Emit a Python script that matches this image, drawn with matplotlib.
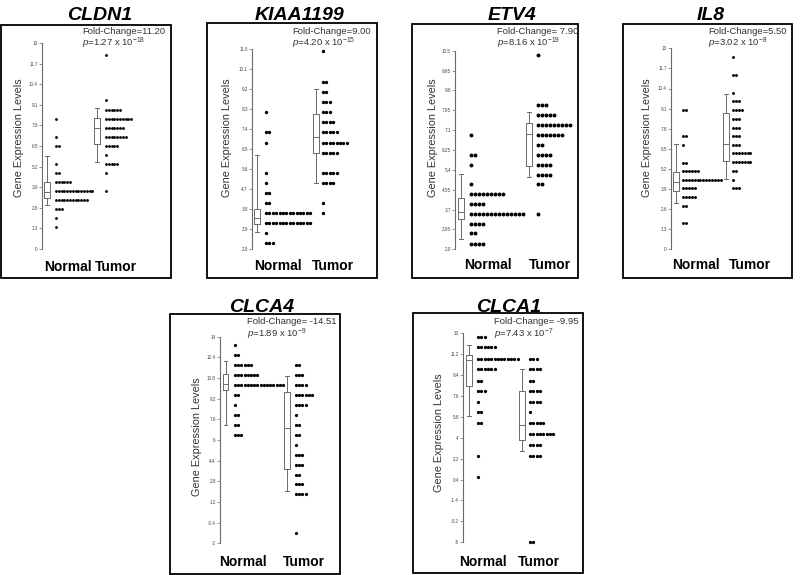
import numpy as np
import matplotlib.pyplot as plt
from matplotlib.patches import Rectangle

plt.rcParams['font.family'] = 'Liberation Sans'
plt.rcParams['mathtext.fontset'] = 'custom'
plt.rcParams['mathtext.rm'] = 'Liberation Sans'
plt.rcParams['mathtext.it'] = 'Liberation Sans:italic'

# ---- данные ----
genes = ["CLDN1", "KIAA1199", "ETV4", "IL8", "CLCA4", "CLCA1"]
fold_changes = ["11.20", "9.00", " 7.90", "5.50", " -14.51", " -9.95"]
p_mantissa = ["1.27", "4.20", "8.16", "3.02", "1.89", "7.43"]
p_exponent = [-18, -15, -19, -8, -9, -7]
groups = ["Normal", "Tumor"]

tick_labels = [
    ["0", "1.3", "2.6", "3.9", "5.2", "6.5", "7.8", "9.1", "10.4", "11.7", "13"],
    ["2.0", "2.9", "3.8", "4.7", "5.6", "6.5", "7.4", "8.3", "9.2", "10.1", "11.0"],
    ["2.0", "2.85", "3.7", "4.55", "5.4", "6.25", "7.1", "7.95", "8.8", "9.65", "10.5"],
    ["0", "1.3", "2.6", "3.9", "5.2", "6.5", "7.8", "9.1", "10.4", "11.7", "13"],
    ["-2", "-0.4", "1.2", "2.8", "4.4", "6", "7.6", "9.2", "10.8", "12.4", "14"],
    ["-5", "-3.2", "-1.4", "0.4", "2.2", "4", "5.8", "7.6", "9.4", "11.2", "13"],
]

# уровни экспрессии и число точек на каждом уровне
cldn1_normal_levels = [8.20, 7.07, 6.50, 5.36, 4.81, 4.25, 3.68, 3.11, 2.54, 1.97, 1.41]
cldn1_normal_counts = [1, 1, 2, 1, 2, 6, 14, 12, 3, 1, 1]
cldn1_tumor_levels = [12.22, 9.38, 8.79, 8.22, 7.65, 7.09, 6.52, 5.95, 5.38, 4.81, 3.68]
cldn1_tumor_counts = [1, 1, 6, 10, 7, 8, 5, 1, 5, 1, 1]

kiaa_normal_levels = [8.19, 7.29, 6.80, 5.45, 5.00, 4.53, 4.08, 3.62, 3.17, 2.72, 2.27]
kiaa_normal_counts = [1, 2, 1, 1, 1, 2, 2, 14, 14, 1, 3]
kiaa_tumor_levels = [10.91, 9.54, 9.09, 8.64, 8.19, 7.74, 7.29, 6.80, 6.35, 5.45, 5.00, 4.08, 3.62]
kiaa_tumor_counts = [1, 2, 2, 3, 3, 4, 5, 8, 5, 5, 4, 1, 1]

etv4_normal_levels = [6.89, 6.04, 5.61, 4.78, 4.35, 3.93, 3.51, 3.08, 2.68, 2.24]
etv4_normal_counts = [1, 2, 1, 1, 9, 4, 14, 4, 2, 4]
etv4_tumor_levels = [10.31, 8.17, 7.75, 7.32, 6.89, 6.46, 6.04, 5.61, 5.19, 4.78, 3.51]
etv4_tumor_counts = [1, 3, 5, 9, 7, 2, 4, 4, 4, 2, 1]

il8_normal_levels = [9.01, 7.33, 6.75, 5.60, 5.06, 4.48, 3.94, 3.36, 2.80, 1.68]
il8_normal_counts = [2, 2, 1, 2, 6, 14, 5, 5, 2, 2]
il8_tumor_levels = [12.42, 11.27, 10.13, 9.57, 8.99, 8.43, 7.87, 7.33, 6.77, 6.21, 5.63, 5.06, 4.50, 3.96]
il8_tumor_counts = [1, 2, 1, 3, 4, 3, 3, 3, 3, 7, 7, 2, 1, 3]

clca4_normal_levels = [13.36, 12.59, 11.81, 11.04, 10.26, 9.49, 8.72, 7.94, 7.17, 6.39]
clca4_normal_counts = [1, 2, 6, 8, 16, 2, 1, 2, 2, 3]
clca4_tumor_levels = [11.81, 11.04, 10.26, 9.49, 8.72, 7.94, 7.17, 6.39, 5.61, 4.84, 4.07, 3.29, 2.57, 1.80, -1.23]
clca4_tumor_counts = [2, 3, 4, 6, 4, 1, 2, 2, 1, 3, 3, 2, 3, 4, 1]

clca1_normal_levels = [12.71, 11.80, 10.76, 9.90, 8.92, 8.03, 7.11, 6.20, 5.25, 2.43, 0.62]
clca1_normal_counts = [3, 6, 13, 6, 2, 3, 1, 2, 2, 1, 1]
clca1_tumor_levels = [10.76, 9.90, 8.92, 8.03, 7.11, 6.20, 5.25, 4.30, 3.38, 2.43, -4.95]
clca1_tumor_counts = [3, 4, 2, 4, 4, 1, 5, 8, 4, 4, 2]

# ящики: [нижний ус, Q1, медиана, Q3, верхний ус]
box_normal = [
    [2.78, 3.24, 3.60, 4.23, 5.87],
    [2.76, 3.14, 3.40, 3.80, 6.24],
    [2.44, 3.30, 3.61, 4.21, 5.21],
    [3.01, 3.79, 4.33, 5.02, 6.81],
    [7.14, 9.87, 10.36, 11.09, 12.14],
    [5.88, 8.46, 10.67, 11.10, 11.99],
]
box_tumor = [
    [5.49, 6.60, 7.65, 8.25, 8.88],
    [4.97, 6.35, 7.07, 8.08, 9.20],
    [5.08, 5.56, 6.93, 7.42, 7.89],
    [4.53, 5.71, 6.79, 8.80, 10.03],
    [2.03, 3.76, 6.95, 9.74, 10.98],
    [2.86, 3.81, 5.10, 8.03, 9.90],
]

normal_data = [
    (cldn1_normal_levels, cldn1_normal_counts), (kiaa_normal_levels, kiaa_normal_counts),
    (etv4_normal_levels, etv4_normal_counts), (il8_normal_levels, il8_normal_counts),
    (clca4_normal_levels, clca4_normal_counts), (clca1_normal_levels, clca1_normal_counts),
]
tumor_data = [
    (cldn1_tumor_levels, cldn1_tumor_counts), (kiaa_tumor_levels, kiaa_tumor_counts),
    (etv4_tumor_levels, etv4_tumor_counts), (il8_tumor_levels, il8_tumor_counts),
    (clca4_tumor_levels, clca4_tumor_counts), (clca1_tumor_levels, clca1_tumor_counts),
]

# ---- раскладка (в пикселях) ----
layout = [
    dict(frame=(1, 25, 171, 278), spine=42, yp=(43, 249), box=(47, 97), dots=(56, 106), sp=2.8,
         ylab=(19, 138), title=(100, 16), fold=(82, 32, 43), xl=(68, 116, 267)),
    dict(frame=(207, 23, 377, 278), spine=252, yp=(49.3, 249.3), box=(257, 316), dots=(266, 323), sp=3.4,
         ylab=(227, 138), title=(300, 16), fold=(292, 32, 43), xl=(278, 333, 266)),
    dict(frame=(412, 24, 578, 278), spine=455, yp=(50.7, 249.3), box=(461, 529), dots=(471, 538), sp=4.0,
         ylab=(433, 138), title=(512, 16), fold=(497, 32, 43), xl=(488, 550, 265)),
    dict(frame=(623, 24, 792, 278), spine=671, yp=(48.3, 249.3), box=(676, 726), dots=(683, 733), sp=2.9,
         ylab=(647, 138), title=(711, 16), fold=(708, 32, 43), xl=(696, 750, 265)),
    dict(frame=(170, 314, 340, 574), spine=220, yp=(336.7, 543.3), box=(225.5, 287), dots=(235, 296), sp=3.2,
         ylab=(197, 437), title=(262, 307), fold=(247, 322, 334), xl=(243, 304, 562)),
    dict(frame=(413, 313, 583, 573), spine=463, yp=(333.3, 542.3), box=(469, 522), dots=(478, 530), sp=3.3,
         ylab=(439, 433), title=(509, 307), fold=(494, 322, 334), xl=(483, 539, 562)),
]

W, H = 800, 575
GRAY = '#6a6a6a'
fig = plt.figure(figsize=(8, 5.75), dpi=100)


def fx(x):
    return x / W


def fy(y):
    return 1 - y / H


for k, gene in enumerate(genes):
    lay = layout[k]
    x0, y0, x1, y1 = lay['frame']
    fig.patches.append(Rectangle((fx(x0), fy(y1)), (x1 - x0) / W, (y1 - y0) / H,
                                 transform=fig.transFigure, fill=False, ec='black', lw=1.3))

    sx = lay['spine']
    ytop, ybot = lay['yp']
    ax = fig.add_axes([fx(sx), fy(ybot), (x1 - 2 - sx) / W, (ybot - ytop) / H])
    ax.patch.set_alpha(0)
    ax.set_xlim(sx, x1 - 2)
    ticks = [float(t) for t in tick_labels[k]]
    ax.set_ylim(ticks[0], ticks[-1])
    ax.set_yticks(ticks)
    ax.set_yticklabels(tick_labels[k], fontsize=3.3, color='#444444')
    ax.tick_params(axis='y', length=2, width=0.5, color=GRAY, pad=1)
    ax.set_xticks([])
    for s in ['top', 'right', 'bottom']:
        ax.spines[s].set_visible(False)
    ax.spines['left'].set_color(GRAY)
    ax.spines['left'].set_linewidth(0.8)

    # точки
    sp = lay['sp']
    size = ((sp * 0.9 + 0.3) * 0.72) ** 2
    for (levels, counts), start in zip([normal_data[k], tumor_data[k]], lay['dots']):
        xs, ys = [], []
        for v, c in zip(levels, counts):
            xs += [start + i * sp for i in range(c)]
            ys += [v] * c
        ax.scatter(xs, ys, s=size, c='black', lw=0, clip_on=False, zorder=3)

    # ящики
    stats = []
    for b in (box_normal[k], box_tumor[k]):
        stats.append(dict(whislo=b[0], q1=b[1], med=b[2], q3=b[3], whishi=b[4], fliers=[]))
    lp = dict(color=GRAY, lw=0.7)
    ax.bxp(stats, positions=list(lay['box']), widths=5.5, capwidths=3.5, showfliers=False,
           boxprops=lp, whiskerprops=lp, capprops=lp, medianprops=lp, manage_ticks=False)

    # подписи
    tx, ty = lay['title']
    fig.text(fx(tx), fy(ty), gene, ha='center', va='center', fontsize=14,
             fontweight='bold', fontstyle='italic')
    fxp, fyf, fyp = lay['fold']
    fig.text(fx(fxp), fy(fyf), 'Fold-Change=' + fold_changes[k], ha='left', va='center',
             fontsize=6.8, color='#333333')
    fig.text(fx(fxp), fy(fyp), r'$\mathit{p}$=' + p_mantissa[k] + r' x 10$^{' + str(p_exponent[k]) + '}$',
             ha='left', va='center', fontsize=6.8, color='#333333')
    lx, ly = lay['ylab']
    fig.text(fx(lx), fy(ly), 'Gene Expression Levels', rotation=90, ha='center', va='center',
             fontsize=7.8, color='#333333')
    nx, tx2, xy = lay['xl']
    for gx, g in zip((nx, tx2), groups):
        fig.text(fx(gx), fy(xy), g, ha='center', va='center', fontsize=10, fontweight='bold')

fig.savefig('out.png', dpi=100)
